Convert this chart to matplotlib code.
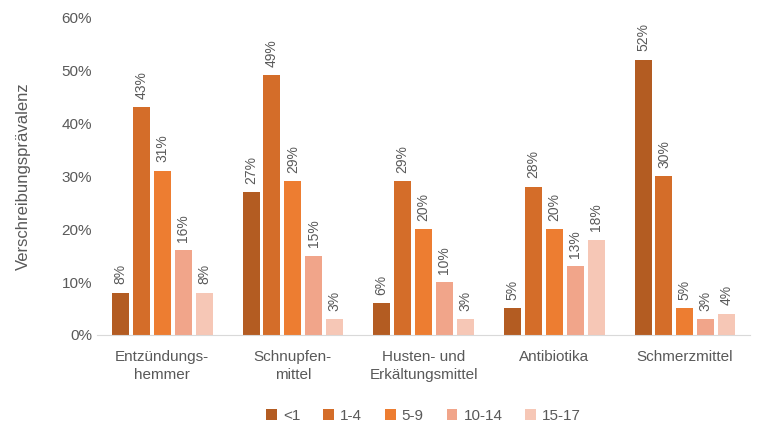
import numpy as np
import matplotlib.pyplot as plt

plt.rcParams['font.family'] = ['Liberation Sans', 'DejaVu Sans']

# Data
categories = ['Entzündungs-\nhemmer', 'Schnupfen-\nmittel', 'Husten- und\nErkältungsmittel',
              'Antibiotika', 'Schmerzmittel']
age_groups = ['<1', '1-4', '5-9', '10-14', '15-17']
v_lt1 = [8, 27, 6, 5, 52]
v_1_4 = [43, 49, 29, 28, 30]
v_5_9 = [31, 29, 20, 20, 5]
v_10_14 = [16, 15, 10, 13, 3]
v_15_17 = [8, 3, 3, 18, 4]
series = [v_lt1, v_1_4, v_5_9, v_10_14, v_15_17]
colors = ['#B35C22', '#D46D29', '#ED7D31', '#F1A58A', '#F6C7B6']

grey = '#595959'

fig = plt.figure(figsize=(7.57, 4.30), dpi=100)
ax = fig.add_axes([0.128, 0.221, 0.863, 0.739])

x = np.arange(len(categories))
step = 0.16
width = 0.13
for i, (vals, col, lab) in enumerate(zip(series, colors, age_groups)):
    pos = x + (i - 2) * step
    ax.bar(pos, vals, width=width, color=col, label=lab)
    for p, v in zip(pos, vals):
        ax.annotate(f'{v}%', (p, v), xytext=(0, 6), textcoords='offset points',
                    rotation=90, ha='center', va='bottom', fontsize=10, color=grey)

ax.set_xlim(-0.5, len(categories) - 0.5)
ax.set_ylim(0, 60)
ax.set_yticks(range(0, 61, 10))
ax.set_yticklabels([f'{t}%' for t in range(0, 61, 10)])
ax.set_xticks(x)
ax.set_xticklabels(categories, linespacing=1.3)
ax.tick_params(axis='both', length=0, labelsize=11, colors=grey)
ax.tick_params(axis='x', pad=11)
ax.set_ylabel('Verschreibungsprävalenz', fontsize=12, color=grey, labelpad=22)

for s in ['top', 'right', 'left']:
    ax.spines[s].set_visible(False)
ax.spines['bottom'].set_color('#D9D9D9')

ax.legend(loc='center', bbox_to_anchor=(0.5, -0.255), ncol=5, frameon=False,
          fontsize=11, labelcolor=grey, handlelength=0.7, handleheight=0.7,
          columnspacing=1.5, handletextpad=0.4)

plt.savefig('out.png', dpi=100)
